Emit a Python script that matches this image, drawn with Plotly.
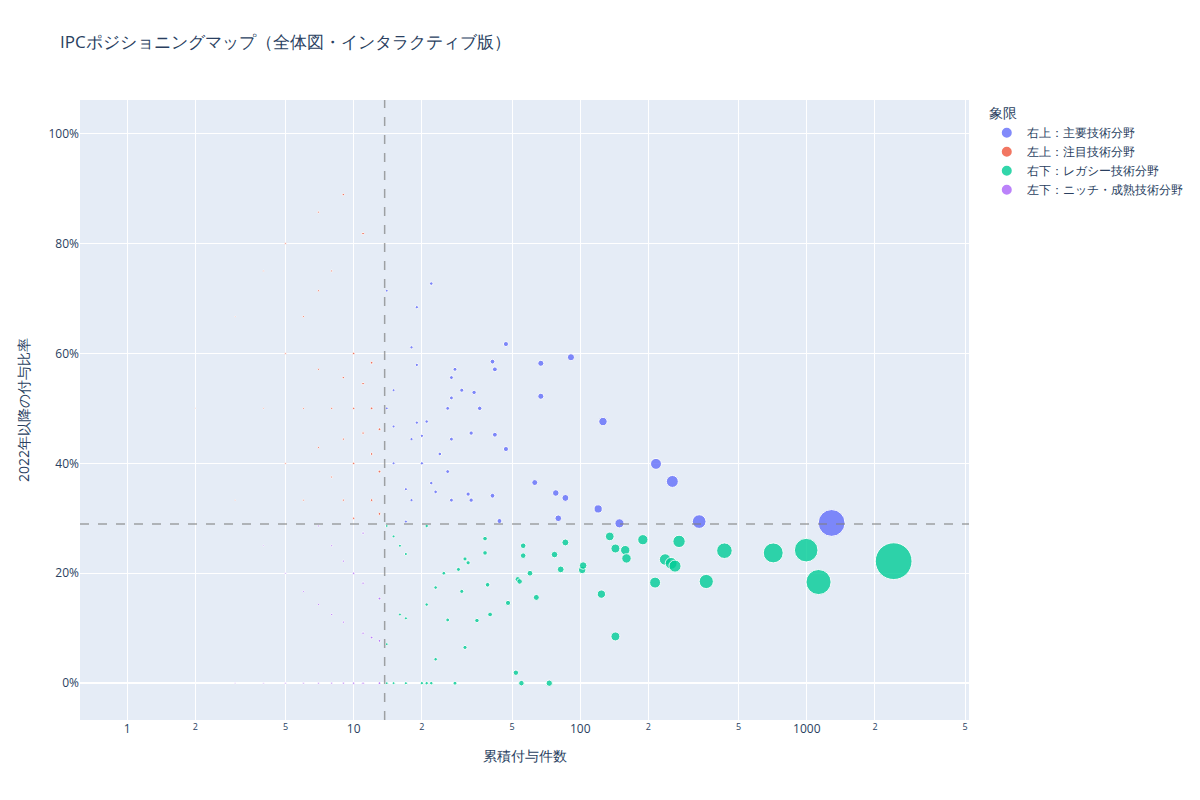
import pandas as pd
import plotly.express as px

# 累積付与件数（x）
counts = [
    # 左側（件数が少ないIPC）
    2,
    3, 3, 3,
    4, 4, 4, 4,
    5, 5, 5, 5, 5,
    6, 6, 6, 6, 6,
    7, 7, 7, 7, 7, 7, 7,
    8, 8, 8, 8, 8, 8,
    9, 9, 9, 9, 9, 9, 9,
    10, 10, 10, 10, 10, 10,
    11, 11, 11, 11, 11, 11, 11,
    12, 12, 12, 12, 12,
    13, 13, 13, 13, 13, 13,
    # 右上
    14, 14, 15, 15, 15, 17, 17, 18, 18, 18, 19, 19, 19, 20, 20, 21, 22, 22,
    23, 24, 26, 26, 27, 27, 27, 27, 28, 30, 32, 33, 33, 34, 36, 41, 41, 42,
    42, 44, 47, 47, 63, 67, 67, 78, 80, 86, 91, 120, 126, 149, 216, 255,
    335, 1287,
    # 右下
    14, 14, 14, 15, 15, 16, 16, 17, 17, 17, 20, 21, 21, 21, 22, 23, 23, 25,
    26, 28, 29, 30, 31, 31, 32, 35, 38, 38, 39, 40, 48, 52, 53, 54, 55, 56,
    56, 60, 64, 73, 77, 82, 86, 102, 103, 124, 135, 143, 143, 158, 160, 189,
    214, 237, 252, 262, 273, 360, 433, 711, 994, 1127, 2418,
]

# 2022年以降の付与比率（y）
ratios = [
    0.5,
    0.667, 0.333, 0.0,
    0.75, 0.5, 0.25, 0.0,
    0.8, 0.6, 0.4, 0.2, 0.0,
    0.667, 0.5, 0.333, 0.167, 0.0,
    0.857, 0.714, 0.571, 0.429, 0.286, 0.143, 0.0,
    0.75, 0.5, 0.375, 0.25, 0.125, 0.0,
    0.889, 0.556, 0.444, 0.333, 0.222, 0.111, 0.0,
    0.6, 0.5, 0.4, 0.3, 0.2, 0.0,
    0.818, 0.545, 0.455, 0.273, 0.182, 0.091, 0.0,
    0.583, 0.5, 0.417, 0.333, 0.083,
    0.462, 0.385, 0.308, 0.154, 0.077, 0.0,
    0.714, 0.5, 0.533, 0.467, 0.4, 0.353, 0.294, 0.611, 0.444, 0.333, 0.684,
    0.579, 0.474, 0.45, 0.4, 0.476, 0.727, 0.364,
    0.348, 0.417, 0.5, 0.385, 0.556, 0.519, 0.444, 0.333, 0.571, 0.533, 0.344,
    0.455, 0.333, 0.529, 0.5, 0.585, 0.341, 0.571,
    0.452, 0.295, 0.617, 0.426, 0.365, 0.582, 0.522, 0.346, 0.3, 0.337, 0.593,
    0.317, 0.476, 0.2908, 0.399, 0.367,
    0.294, 0.2915,
    0.286, 0.071, 0.0, 0.267, 0.0, 0.25, 0.125, 0.235, 0.118, 0.0, 0.0, 0.286,
    0.143, 0.0, 0.0, 0.174, 0.0435, 0.2,
    0.115, 0.0, 0.207, 0.167, 0.226, 0.065, 0.219, 0.114, 0.263, 0.237, 0.179,
    0.125, 0.146, 0.019, 0.189, 0.185, 0.0, 0.25,
    0.232, 0.2, 0.156, 0.0, 0.234, 0.207, 0.256, 0.206, 0.214, 0.162, 0.267,
    0.245, 0.085, 0.242, 0.227, 0.261,
    0.183, 0.225, 0.218, 0.213, 0.258, 0.185, 0.241, 0.237, 0.242, 0.184, 0.222,
]

x_line = 13.7   # 累積件数のしきい値
y_line = 0.2897  # 比率のしきい値

quadrant_names = [
    "右上：主要技術分野",
    "左上：注目技術分野",
    "右下：レガシー技術分野",
    "左下：ニッチ・成熟技術分野",
]


def quadrant(n, r):
    if n >= x_line and r >= y_line:
        return quadrant_names[0]
    if n < x_line and r >= y_line:
        return quadrant_names[1]
    if n >= x_line:
        return quadrant_names[2]
    return quadrant_names[3]


df = pd.DataFrame({"累積付与件数": counts, "2022年以降の付与比率": ratios})
df["象限"] = [quadrant(n, r) for n, r in zip(counts, ratios)]

fig = px.scatter(
    df,
    x="累積付与件数",
    y="2022年以降の付与比率",
    color="象限",
    size="累積付与件数",
    size_max=26,
    log_x=True,
    opacity=0.8,
    category_orders={"象限": quadrant_names},
)
fig.update_traces(marker_line=dict(width=1, color="white"))

# 象限の境界線
fig.add_vline(x=x_line, line_dash="dash", line_color="gray", line_width=1.5, opacity=0.7)
fig.add_hline(y=y_line, line_dash="dash", line_color="gray", line_width=1.5, opacity=0.7)

# ページ余白(8px)の分だけ寄せて配置
fig.update_layout(
    width=1192,
    height=792,
    margin=dict(l=72, r=80, t=92, b=80),
    title=dict(
        text="IPCポジショニングマップ（全体図・インタラクティブ版）",
        x=0.0436,
        y=0.957,
        yanchor="middle",
    ),
    yaxis=dict(tickformat=".0%", range=[-0.067, 1.061]),
    xaxis=dict(range=[-0.208, 3.716]),
)

fig.write_html("out.html")
